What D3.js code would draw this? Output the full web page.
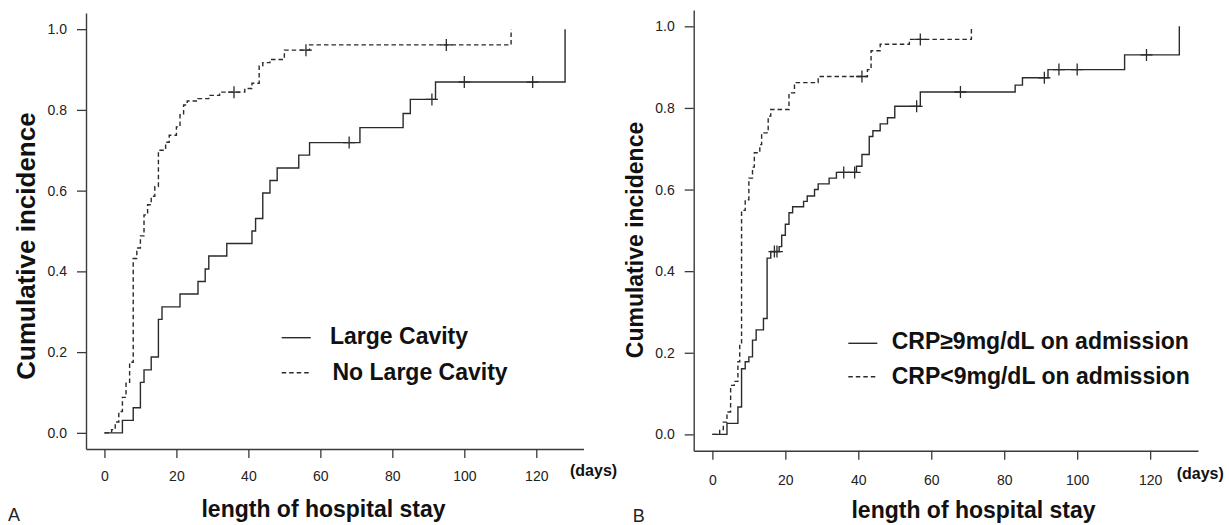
<!DOCTYPE html>
<html>
<head>
<meta charset="utf-8">
<script src="https://cdn.jsdelivr.net/npm/d3@7"></script>
<style>
  body { margin: 0; background: #fff; }
  svg { display: block; font-family: "Liberation Sans", Arial, sans-serif; }
</style>
</head>
<body>
<svg id="chart" width="1229" height="525"></svg>
<script>
// axis ticks
const dayTicks = [0, 20, 40, 60, 80, 100, 120];
const incTicks = [0, 0.2, 0.4, 0.6, 0.8, 1.0];

// Panel A - Large Cavity (solid)
const largeCavityDays = [0, 5, 8, 10, 11, 13, 15, 16, 21, 26, 28, 29, 34, 41, 42, 44, 46, 48, 54, 57, 71, 83, 85, 92, 128];
const largeCavityInc  = [0, 0.031, 0.062, 0.125, 0.156, 0.188, 0.281, 0.312, 0.344, 0.375, 0.406, 0.438, 0.469, 0.5, 0.531, 0.594, 0.625, 0.656, 0.688, 0.719, 0.756, 0.791, 0.826, 0.869, 1.0];
const largeCavityCensor = [68, 91, 100, 119];

// Panel A - No Large Cavity (dashed)
const noLargeDays = [0, 2, 3, 4, 5, 6, 7, 8, 9, 10, 11, 12, 13, 14, 15, 17, 18, 20, 21, 22, 23, 26, 29, 32, 39, 41, 43, 44, 46, 50, 57, 113];
const noLargeInc  = [0, 0.008, 0.027, 0.053, 0.088, 0.123, 0.175, 0.432, 0.458, 0.488, 0.54, 0.565, 0.586, 0.61, 0.7, 0.72, 0.737, 0.758, 0.788, 0.812, 0.822, 0.828, 0.836, 0.844, 0.853, 0.866, 0.909, 0.917, 0.925, 0.948, 0.961, 1.0];
const noLargeCensor = [36, 56, 95];

// Panel B - CRP >= 9 (solid)
const crpHighDays = [0, 4, 7, 8, 9, 10, 11, 12, 14, 15, 16, 18.3, 19, 20, 21, 22, 25, 26, 28, 29, 32, 34, 39.5, 41, 43, 44, 46, 48, 50, 57, 83, 85, 92, 113, 128];
const crpHighInc  = [0, 0.027, 0.067, 0.161, 0.178, 0.19, 0.231, 0.256, 0.284, 0.432, 0.448, 0.46, 0.488, 0.515, 0.543, 0.558, 0.571, 0.584, 0.6, 0.614, 0.628, 0.642, 0.657, 0.686, 0.73, 0.744, 0.761, 0.776, 0.804, 0.839, 0.856, 0.874, 0.894, 0.93, 1.0];
const crpHighCensor = [17, 17.7, 36, 39, 56, 68, 91, 95, 100, 119];

// Panel B - CRP < 9 (dashed)
const crpLowDays = [0, 2, 3, 4, 5, 6, 7, 7.5, 8, 9, 10, 11, 11.5, 13, 13.5, 15.3, 16, 21, 22.5, 29, 42.5, 43.5, 46, 54, 71];
const crpLowInc  = [0, 0.012, 0.03, 0.055, 0.12, 0.13, 0.178, 0.22, 0.549, 0.575, 0.628, 0.655, 0.69, 0.71, 0.739, 0.78, 0.796, 0.837, 0.862, 0.877, 0.894, 0.94, 0.956, 0.968, 1.0];
const crpLowCensor = [41, 57];

const ink = "#2b2b2b";

const panels = [
  {
    letter: "A", letterX: 8, letterY: 521,
    left: 86, right: 583.5, top: 13, bottom: 449,
    xLabelPad: 13, yTitleX: 35, yTitleY: 246, yTitleSize: 26,
    xTitleX: 323.5, xTitleY: 517, daysX: 570, daysY: 476,
    legLineX: [281.7, 310.7], legTextX: [330, 332.5], legLineY: [337.7, 372.7], legTextY: [344.3, 380],
    series: [
      { name: "Large Cavity", days: largeCavityDays, inc: largeCavityInc, censor: largeCavityCensor, dash: null },
      { name: "No Large Cavity", days: noLargeDays, inc: noLargeInc, censor: noLargeCensor, dash: "4.5,3" }
    ]
  },
  {
    letter: "B", letterX: 632.7, letterY: 521.7,
    left: 693.7, right: 1198, top: 10, bottom: 450.7,
    xLabelPad: 15, yTitleX: 643, yTitleY: 240, yTitleSize: 23,
    xTitleX: 973.5, xTitleY: 518, daysX: 1176.7, daysY: 479,
    legLineX: [848.3, 877.3], legTextX: [891.7, 891.7], legLineY: [343.3, 376.7], legTextY: [349.3, 384],
    series: [
      { name: "CRP\u22659mg/dL on admission", days: crpHighDays, inc: crpHighInc, censor: crpHighCensor, dash: null },
      { name: "CRP<9mg/dL on admission", days: crpLowDays, inc: crpLowInc, censor: crpLowCensor, dash: "4.5,3" }
    ]
  }
];

const svg = d3.select("#chart");

panels.forEach(p => {
  const x = d3.scaleLinear().domain([-5.12, 133.12]).range([p.left, p.right]);
  const y = d3.scaleLinear().domain([-0.04, 1.04]).range([p.bottom, p.top]);

  const g = svg.append("g");

  // axes (L-shaped box)
  const yAxis = g.append("g")
    .attr("transform", "translate(" + p.left + ",0)")
    .call(d3.axisLeft(y).tickValues(incTicks).tickFormat(d3.format(".1f")).tickSize(9).tickPadding(10).tickSizeOuter(0));
  const xAxis = g.append("g")
    .attr("transform", "translate(0," + p.bottom + ")")
    .call(d3.axisBottom(x).tickValues(dayTicks).tickSize(9).tickPadding(p.xLabelPad).tickSizeOuter(0));

  [xAxis, yAxis].forEach(a => {
    a.select(".domain").attr("stroke", "#3a3a3a").attr("stroke-width", 1.4);
    a.selectAll(".tick line").attr("stroke", "#3a3a3a").attr("stroke-width", 1.3);
    a.selectAll(".tick text").attr("fill", "#222").style("font-size", "14px")
      .style("font-family", "'Liberation Sans', Arial, sans-serif");
  });

  // curves
  const line = d3.line().curve(d3.curveStepAfter).x(d => x(d[0])).y(d => y(d[1]));
  p.series.forEach(s => {
    const pts = s.days.map((d, i) => [d, s.inc[i]]);
    g.append("path")
      .attr("d", line(pts))
      .attr("fill", "none")
      .attr("stroke", ink)
      .attr("stroke-width", 1.4)
      .attr("stroke-dasharray", s.dash);

    // censor marks: value of step function at each censored time
    const at = t => {
      let v = 0;
      s.days.forEach((d, i) => { if (d <= t) v = s.inc[i]; });
      return v;
    };
    const marks = g.append("g");
    s.censor.forEach(t => {
      const cx = x(t), cy = y(at(t));
      marks.append("path")
        .attr("d", "M" + (cx - 6) + "," + cy + "H" + (cx + 6) + "M" + cx + "," + (cy - 6) + "V" + (cy + 6))
        .attr("stroke", ink)
        .attr("stroke-width", 1.3)
        .attr("fill", "none");
    });
  });

  // legend
  p.series.forEach((s, i) => {
    g.append("line")
      .attr("x1", p.legLineX[0]).attr("x2", p.legLineX[1])
      .attr("y1", p.legLineY[i]).attr("y2", p.legLineY[i])
      .attr("stroke", ink).attr("stroke-width", 1.4)
      .attr("stroke-dasharray", s.dash);
    g.append("text")
      .attr("x", p.legTextX[i]).attr("y", p.legTextY[i])
      .attr("font-size", 23).attr("font-weight", "bold").attr("fill", "#111")
      .text(s.name);
  });

  // titles
  g.append("text")
    .attr("transform", "translate(" + p.yTitleX + "," + p.yTitleY + ") rotate(-90)")
    .attr("text-anchor", "middle")
    .attr("font-size", p.yTitleSize).attr("font-weight", "bold").attr("fill", "#111")
    .text("Cumulative incidence");

  g.append("text")
    .attr("x", p.xTitleX).attr("y", p.xTitleY)
    .attr("text-anchor", "middle")
    .attr("font-size", 23).attr("font-weight", "bold").attr("fill", "#111")
    .text("length of hospital stay");

  g.append("text")
    .attr("x", p.daysX).attr("y", p.daysY)
    .attr("font-size", 16).attr("font-weight", "bold").attr("fill", "#111")
    .text("(days)");

  g.append("text")
    .attr("x", p.letterX).attr("y", p.letterY)
    .attr("font-size", 18).attr("fill", "#222")
    .text(p.letter);
});
</script>
</body>
</html>
